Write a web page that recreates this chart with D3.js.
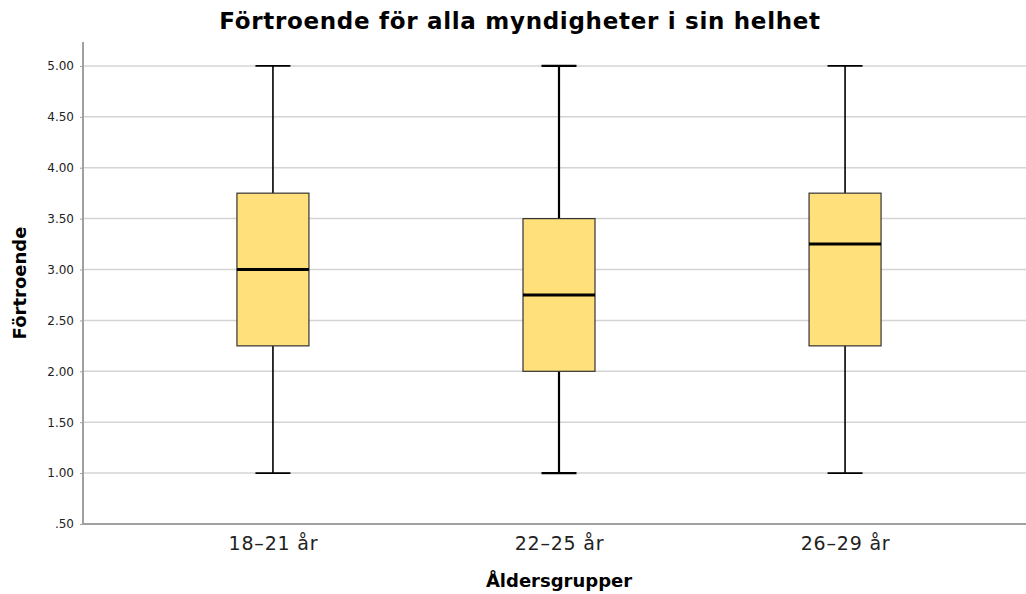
<!DOCTYPE html>
<html>
<head>
<meta charset="utf-8">
<script src="https://cdn.jsdelivr.net/npm/d3@7"></script>
<style>
  body { margin: 0; background: #fff; }
  text { font-family: "DejaVu Sans", sans-serif; }
</style>
</head>
<body>
<svg id="chart" width="1026" height="594"></svg>
<script>
// data
const groups = ["18–21 år", "22–25 år", "26–29 år"];
const whiskerLow = [1.00, 1.00, 1.00];
const quart1 = [2.25, 2.00, 2.25];
const medians = [3.00, 2.75, 3.25];
const quart3 = [3.75, 3.50, 3.75];
const whiskerHigh = [5.00, 5.00, 5.00];
const yTicks = [0.5, 1, 1.5, 2, 2.5, 3, 3.5, 4, 4.5, 5];

const boxes = groups.map((g, i) => ({
    group: g, lo: whiskerLow[i], q1: quart1[i], med: medians[i], q3: quart3[i], hi: whiskerHigh[i]
}));

const svg = d3.select("#chart");
const margin = {top: 42, left: 83, bottom: 524};

const x = d3.scalePoint()
    .domain(groups)
    .range([margin.left, 1035])
    .padding(0.664);

const y = d3.scaleLinear()
    .domain([0.5, 5.235])
    .range([margin.bottom, margin.top]);

// grid lines
svg.append("g")
    .selectAll("line")
    .data(yTicks.filter(d => d > 0.5))
    .join("line")
    .attr("x1", margin.left)
    .attr("x2", 1026)
    .attr("y1", d => y(d))
    .attr("y2", d => y(d))
    .attr("stroke", "#d4d4d4")
    .attr("stroke-width", 1.5);

// y axis
const yAxis = svg.append("g")
    .attr("transform", `translate(${margin.left},0)`)
    .call(d3.axisLeft(y).tickValues(yTicks).tickSize(3).tickPadding(6)
        .tickFormat(d => d3.format(".2f")(d).replace(/^0/, "")));
yAxis.select(".domain").attr("stroke", "#a0a0a0").attr("stroke-width", 2)
    .attr("d", `M0,${margin.top}V${margin.bottom}`);
yAxis.selectAll(".tick line").attr("stroke", "#a0a0a0");
yAxis.selectAll(".tick text").attr("font-size", 12).attr("fill", "#222");

// x axis
const xAxis = svg.append("g")
    .attr("transform", `translate(0,${margin.bottom})`)
    .call(d3.axisBottom(x).tickSize(0).tickPadding(13));
xAxis.select(".domain").attr("stroke", "#a0a0a0").attr("stroke-width", 2)
    .attr("d", `M${margin.left},0H1026`);
xAxis.selectAll(".tick text").attr("font-size", 19).attr("letter-spacing", 0.8).attr("fill", "#222");

// boxes
const boxW = 72, capW = 35;
const bx = svg.append("g")
    .selectAll("g")
    .data(boxes)
    .join("g")
    .attr("transform", d => `translate(${x(d.group)},0)`);

const whiskerWidth = (d, i) => i === 1 ? 2.2 : 1.6;

bx.append("line")
    .attr("y1", d => y(d.hi)).attr("y2", d => y(d.q3))
    .attr("stroke", "#000").attr("stroke-width", whiskerWidth);
bx.append("line")
    .attr("y1", d => y(d.q1)).attr("y2", d => y(d.lo))
    .attr("stroke", "#000").attr("stroke-width", whiskerWidth);
bx.append("line")
    .attr("x1", -capW / 2).attr("x2", capW / 2)
    .attr("y1", d => y(d.hi)).attr("y2", d => y(d.hi))
    .attr("stroke", "#000").attr("stroke-width", whiskerWidth);
bx.append("line")
    .attr("x1", -capW / 2).attr("x2", capW / 2)
    .attr("y1", d => y(d.lo)).attr("y2", d => y(d.lo))
    .attr("stroke", "#000").attr("stroke-width", whiskerWidth);

bx.append("rect")
    .attr("x", -boxW / 2)
    .attr("width", boxW)
    .attr("y", d => y(d.q3))
    .attr("height", d => y(d.q1) - y(d.q3))
    .attr("fill", "#ffe07a")
    .attr("stroke", "#333")
    .attr("stroke-width", 1.2);

bx.append("line")
    .attr("x1", -boxW / 2).attr("x2", boxW / 2)
    .attr("y1", d => y(d.med)).attr("y2", d => y(d.med))
    .attr("stroke", "#000").attr("stroke-width", 3);

// titles
svg.append("text")
    .attr("x", 520).attr("y", 29)
    .attr("text-anchor", "middle")
    .attr("font-size", 23).attr("font-weight", "bold")
    .attr("letter-spacing", 0.7)
    .text("Förtroende för alla myndigheter i sin helhet");

svg.append("text")
    .attr("x", 559).attr("y", 587)
    .attr("text-anchor", "middle")
    .attr("font-size", 18).attr("font-weight", "bold")
    .text("Åldersgrupper");

svg.append("text")
    .attr("transform", "translate(26,283) rotate(-90)")
    .attr("text-anchor", "middle")
    .attr("font-size", 18).attr("font-weight", "bold")
    .text("Förtroende");
</script>
</body>
</html>
